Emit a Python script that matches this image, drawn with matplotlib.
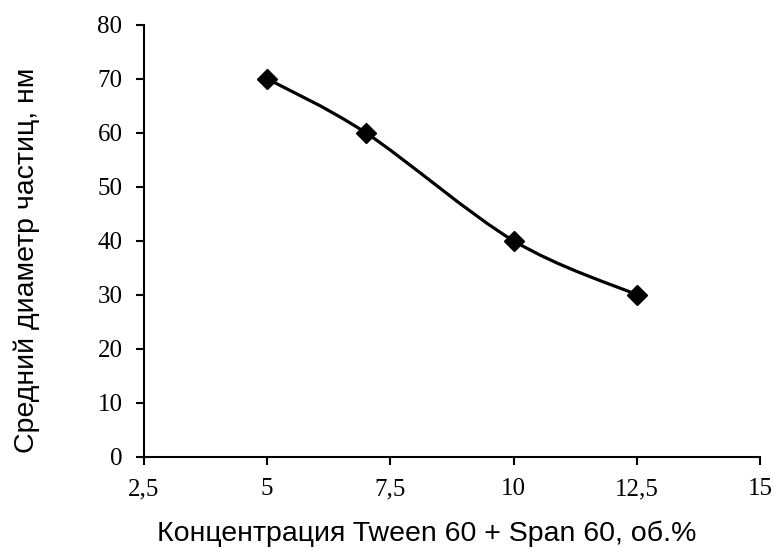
import matplotlib.pyplot as plt
from matplotlib.path import Path
from matplotlib.patches import PathPatch
from matplotlib.ticker import FuncFormatter
import numpy as np

# data
concentration = [5, 7, 10, 12.5]
diameter = [70, 60, 40, 30]
x_ticks = [2.5, 5, 7.5, 10, 12.5, 15]
y_ticks = [0, 10, 20, 30, 40, 50, 60, 70, 80]


# Excel-like smoothed line: Catmull-Rom segments as cubic Bezier curves
def smooth_path(xs, ys):
    pts = np.column_stack([xs, ys]).astype(float)
    verts = [pts[0]]
    codes = [Path.MOVETO]
    n = len(pts)
    for i in range(n - 1):
        p0 = pts[i - 1] if i > 0 else pts[i]
        p1 = pts[i]
        p2 = pts[i + 1]
        p3 = pts[i + 2] if i + 2 < n else pts[i + 1]
        c1 = p1 + (p2 - p0) / 6
        c2 = p2 - (p3 - p1) / 6
        verts += [c1, c2, p2]
        codes += [Path.CURVE4] * 3
    return Path(verts, codes)


fig = plt.figure(figsize=(7.74, 5.51), dpi=100)
ax = fig.add_axes([0.186, 0.171, 0.796, 0.784])

ax.add_patch(PathPatch(smooth_path(concentration, diameter), facecolor='none',
                       edgecolor='black', lw=2.3, zorder=2))
ax.plot(concentration, diameter, linestyle='none', marker='D', markersize=10.5,
        color='black', zorder=3)

ax.set_xlim(2.5, 15)
ax.set_ylim(0, 80)
ax.set_xticks(x_ticks)
ax.set_yticks(y_ticks)
ax.xaxis.set_major_formatter(FuncFormatter(lambda v, p: ('%g' % v).replace('.', ',')))

for s in ['top', 'right']:
    ax.spines[s].set_visible(False)
for s in ['left', 'bottom']:
    ax.spines[s].set_linewidth(1.5)

ax.tick_params(direction='out', length=5.5, width=1.5, labelsize=18, pad=10)
for lab in ax.get_xticklabels() + ax.get_yticklabels():
    lab.set_family('Liberation Serif')

ax.set_xlabel('Концентрация Tween 60 + Span 60, об.%', family='Liberation Sans',
              fontsize=20.5)
ax.set_ylabel('Средний диаметр частиц, нм', family='Liberation Sans',
              fontsize=20.5)
ax.xaxis.set_label_coords(0.459, -0.148)
ax.yaxis.set_label_coords(-0.169, 0.454)

fig.savefig('out.png', dpi=100)
